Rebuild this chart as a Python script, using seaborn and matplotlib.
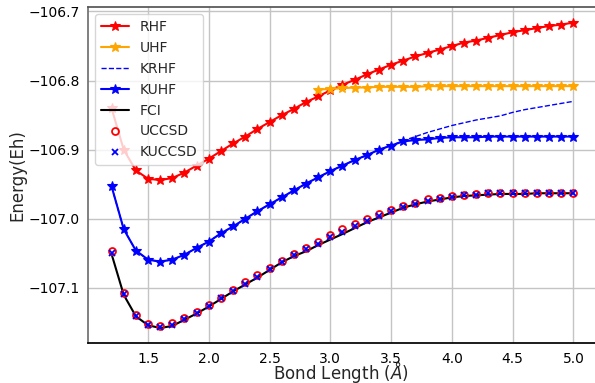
import matplotlib

matplotlib.use("Agg")

import matplotlib.pyplot as plt
import seaborn as sns

bond_length = [1.2, 1.3, 1.4, 1.5, 1.6, 1.7, 1.8, 1.9, 2.0, 2.1,
               2.2, 2.3, 2.4, 2.5, 2.6, 2.7, 2.8, 2.9, 3.0, 3.1,
               3.2, 3.3, 3.4, 3.5, 3.6, 3.7, 3.8, 3.9, 4.0, 4.1,
               4.2, 4.3, 4.4, 4.5, 4.6, 4.7, 4.8, 4.9, 5.0]

rhf = [-106.840, -106.900, -106.930, -106.942, -106.944, -106.941, -106.933, -106.923, -106.913, -106.902,
       -106.891, -106.881, -106.870, -106.860, -106.850, -106.841, -106.831, -106.823, -106.814, -106.806,
       -106.799, -106.791, -106.784, -106.777, -106.771, -106.765, -106.760, -106.755, -106.750, -106.745,
       -106.742, -106.738, -106.734, -106.730, -106.727, -106.724, -106.721, -106.719, -106.716]

uhf_length = [2.9, 3.0, 3.1, 3.2, 3.3, 3.4, 3.5, 3.6, 3.7, 3.8, 3.9,
              4.0, 4.1, 4.2, 4.3, 4.4, 4.5, 4.6, 4.7, 4.8, 4.9, 5.0]
uhf = [-106.813, -106.812, -106.811, -106.810, -106.810, -106.809, -106.809, -106.809, -106.809, -106.808, -106.808,
       -106.808, -106.808, -106.808, -106.808, -106.808, -106.808, -106.808, -106.808, -106.808, -106.808, -106.808]

krhf = [-106.953, -107.015, -107.046, -107.059, -107.062, -107.059, -107.052, -107.042, -107.033, -107.021,
        -107.011, -107.000, -106.989, -106.979, -106.969, -106.959, -106.949, -106.940, -106.931, -106.923,
        -106.915, -106.908, -106.900, -106.894, -106.887, -106.881, -106.875, -106.870, -106.865, -106.861,
        -106.857, -106.854, -106.851, -106.846, -106.842, -106.839, -106.836, -106.833, -106.830]

kuhf = [-106.953, -107.015, -107.046, -107.059, -107.062, -107.059, -107.052, -107.042, -107.033, -107.021,
        -107.011, -107.000, -106.989, -106.979, -106.969, -106.959, -106.949, -106.940, -106.931, -106.923,
        -106.915, -106.908, -106.900, -106.894, -106.888, -106.886, -106.885, -106.883, -106.882, -106.882,
        -106.882, -106.881, -106.881, -106.881, -106.881, -106.881, -106.881, -106.881, -106.881]

fci = [-107.051, -107.110, -107.141, -107.154, -107.158, -107.155, -107.146, -107.137, -107.127, -107.116,
       -107.105, -107.095, -107.085, -107.074, -107.063, -107.054, -107.047, -107.038, -107.030, -107.022,
       -107.0135, -107.005, -106.998, -106.991, -106.984, -106.979, -106.975, -106.972, -106.969, -106.967,
       -106.966, -106.965, -106.964, -106.964, -106.964, -106.963, -106.963, -106.963, -106.963]

uccsd = [-107.047, -107.108, -107.139, -107.152, -107.155, -107.151, -107.143, -107.135, -107.125, -107.114,
         -107.103, -107.092, -107.082, -107.071, -107.061, -107.051, -107.042, -107.033, -107.024, -107.015,
         -107.007, -107.000, -106.993, -106.987, -106.982, -106.977, -106.972, -106.970, -106.967, -106.965,
         -106.964, -106.963, -106.962, -106.962, -106.962, -106.962, -106.962, -106.962, -106.962]

kuccsd = [-107.050, -107.109, -107.140, -107.153, -107.157, -107.154, -107.145, -107.136, -107.126, -107.115,
          -107.104, -107.094, -107.084, -107.073, -107.062, -107.053, -107.044, -107.036, -107.027, -107.019,
          -107.010, -107.003, -106.996, -106.989, -106.983, -106.978, -106.974, -106.971, -106.968, -106.966,
          -106.965, -106.963, -106.962, -106.962, -106.962, -106.962, -106.962, -106.962, -106.962]

sns.set_style("whitegrid", {"grid.color": "#c4c4c4"})
plt.rcParams["font.family"] = ["DejaVu Sans"]

fig = plt.figure(figsize=(5.95, 3.83), dpi=100)
ax = fig.add_axes([0.1487, 0.1037, 0.8538, 0.8773])

star = dict(marker="*", markersize=7, linewidth=1.5, markeredgewidth=0.8)
sns.lineplot(x=bond_length, y=rhf, color="red", markeredgecolor="red", label="RHF", ax=ax, **star)
sns.lineplot(x=uhf_length, y=uhf, color="orange", markeredgecolor="orange", label="UHF", ax=ax, **star)
sns.lineplot(x=bond_length, y=krhf, color="blue", linestyle="--", linewidth=1.0, label="KRHF", ax=ax)
sns.lineplot(x=bond_length, y=kuhf, color="blue", markeredgecolor="blue", label="KUHF", ax=ax, **star)
sns.lineplot(x=bond_length, y=fci, color="black", linewidth=1.5, label="FCI", ax=ax)
sns.lineplot(x=bond_length, y=uccsd, color="red", linestyle="", marker="o", markersize=5,
             markerfacecolor="none", markeredgecolor="red", markeredgewidth=1.3, label="UCCSD", ax=ax)
sns.lineplot(x=bond_length, y=kuccsd, color="blue", linestyle="", marker="x", markersize=5,
             markeredgecolor="blue", markeredgewidth=1.3, label="KUCCSD", ax=ax)

ax.set_xlabel(r"Bond Length ($\AA$)", fontsize=12)
ax.xaxis.set_label_coords(0.497, -0.047)
ax.set_ylabel("Energy(Eh)", fontsize=12, labelpad=2)
ax.tick_params(labelsize=10, colors="black", pad=2.5)
ax.grid(True, linewidth=1.0)

ax.spines["left"].set_color("#707070")
ax.spines["top"].set_color("#555555")
ax.spines["bottom"].set_color("black")
ax.spines["right"].set_visible(False)
for side in ["left", "top", "bottom"]:
    ax.spines[side].set_linewidth(1.25)

ax.legend(loc="upper left", fontsize=10)

fig.savefig("out.png", dpi=100)
plt.close(fig)
